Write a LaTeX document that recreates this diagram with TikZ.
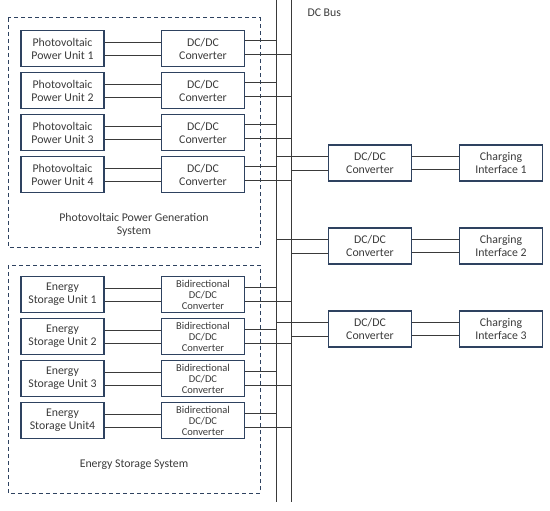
\documentclass[tikz,border=0pt]{standalone}
\usepackage{fontspec}
\setmainfont{Carlito}
\definecolor{boxc}{HTML}{2E4260}
\definecolor{txt}{HTML}{3A3A3A}
\definecolor{linec}{HTML}{3A3A3A}
\begin{document}
\begin{tikzpicture}[x=1pt,y=-1pt,
  unitbox/.style={draw=boxc,line width=1.3pt,minimum width=83pt,minimum height=36pt,inner sep=0pt,align=center,text=txt,font=\fontsize{11.8}{13}\selectfont},
  wire/.style={draw=linec,line width=0.8pt},
  group/.style={draw=boxc,line width=1pt,dash pattern=on 4pt off 3pt},
  lbl/.style={text=txt,font=\fontsize{11.8}{12.5}\selectfont,align=center}]
\useasboundingbox (0,0) rectangle (550,511);
% groups
\draw[group] (8,18) rectangle (260,247);
\draw[group] (8,265) rectangle (260,493);
% bus
\coordinate (bAt) at (276,0); \coordinate (bAb) at (276,502);
\coordinate (bBt) at (291,0); \coordinate (bBb) at (291,502);
\draw[wire] (bAt) -- (bAb);
\draw[wire] (bBt) -- (bBb);
\node[lbl,anchor=west] (bus) at (304,13) {DC Bus};
% PV
\foreach \i/\y in {1/48.5,2/90.5,3/132.5,4/174.5}{
  \node[unitbox] (pv\i) at (62.5,\y) {Photovoltaic\\Power Unit \i};
  \node[unitbox] (pc\i) at (203,\y) {DC/DC\\Converter};
  \draw[wire] ([yshift=6.5pt]pv\i.east) -- ([yshift=6.5pt]pv\i.east -| pc\i.west);
  \draw[wire] ([yshift=-6.5pt]pv\i.east) -- ([yshift=-6.5pt]pv\i.east -| pc\i.west);
  \draw[wire] ([yshift=8pt]pc\i.east) -- ([yshift=8pt]pc\i.east -| bAt);
  \draw[wire] ([yshift=-6pt]pc\i.east) -- ([yshift=-6pt]pc\i.east -| bBt);
}
\node[lbl] (pvl) at (134,225) {Photovoltaic Power Generation\\System};
% ES
\foreach \i/\y/\n in {1/294.5/ 1,2/336.5/ 2,3/378.5/ 3,4/420.5/4}{
  \node[unitbox] (es\i) at (62.5,\y) {Energy\\Storage Unit\n};
  \node[unitbox,font=\fontsize{10.5}{11}\selectfont] (ec\i) at (203,\y) {Bidirectional\\DC/DC\\Converter};
  \draw[wire] ([yshift=6.5pt]es\i.east) -- ([yshift=6.5pt]es\i.east -| ec\i.west);
  \draw[wire] ([yshift=-6.5pt]es\i.east) -- ([yshift=-6.5pt]es\i.east -| ec\i.west);
  \draw[wire] ([yshift=7pt]ec\i.east) -- ([yshift=7pt]ec\i.east -| bAt);
  \draw[wire] ([yshift=-7pt]ec\i.east) -- ([yshift=-7pt]ec\i.east -| bBt);
}
\node[lbl] (esl) at (134,465) {Energy Storage System};
% charging
\foreach \i/\y in {1/163,2/246,3/329}{
  \node[unitbox] (cc\i) at (370,\y) {DC/DC\\Converter};
  \node[unitbox] (ci\i) at (501,\y) {Charging\\Interface \i};
  \draw[wire] ([yshift=7pt]cc\i.west -| bAt) -- ([yshift=7pt]cc\i.west);
  \draw[wire] ([yshift=-7pt]cc\i.west -| bBt) -- ([yshift=-7pt]cc\i.west);
  \draw[wire] ([yshift=6.5pt]cc\i.east) -- ([yshift=6.5pt]cc\i.east -| ci\i.west);
  \draw[wire] ([yshift=-6.5pt]cc\i.east) -- ([yshift=-6.5pt]cc\i.east -| ci\i.west);
}
\end{tikzpicture}
\end{document}
